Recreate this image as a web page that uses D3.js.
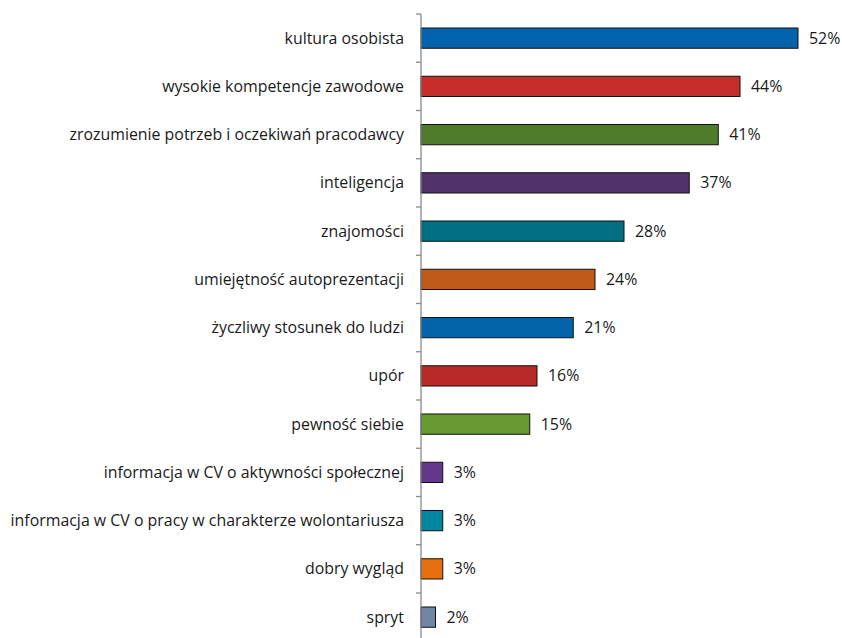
<!DOCTYPE html>
<html>
<head>
<meta charset="utf-8">
<script src="https://cdn.jsdelivr.net/npm/d3@7"></script>
<style>
  html, body { margin: 0; padding: 0; background: #ffffff; }
  svg { display: block; }
  text { font-family: "Open Sans", "Noto Sans", sans-serif; fill: #1a1a1a; }
</style>
</head>
<body>
<svg id="chart" width="842" height="638"></svg>
<script>
const categories = [
  "kultura osobista",
  "wysokie kompetencje zawodowe",
  "zrozumienie potrzeb i oczekiwań pracodawcy",
  "inteligencja",
  "znajomości",
  "umiejętność autoprezentacji",
  "życzliwy stosunek do ludzi",
  "upór",
  "pewność siebie",
  "informacja w CV o aktywności społecznej",
  "informacja w CV o pracy w charakterze wolontariusza",
  "dobry wygląd",
  "spryt"
];
const values = [52, 44, 41, 37, 28, 24, 21, 16, 15, 3, 3, 3, 2];
const colors = [
  "#0463ac", "#c62d2b", "#4f7c2a", "#52326b", "#006f84", "#c05a1b",
  "#0563aa", "#b82a28", "#679a32", "#63388a", "#00879f", "#e4700f", "#6f87a5"
];

const svg = d3.select("#chart");
const axisX = 421;
const plotTop = 14;
const step = 48.25;
const fontSize = "15.9px";

const x = d3.scaleLinear().domain([0, 52]).range([axisX, axisX + 377]);
const y = d3.scaleBand()
  .domain(categories)
  .range([plotTop, plotTop + step * categories.length])
  .paddingInner(0.58)
  .paddingOuter(0.29);

const padGap = (y.step() - y.bandwidth()) / 2;

// bars
svg.append("g").selectAll("rect")
  .data(categories)
  .join("rect")
  .attr("x", axisX)
  .attr("y", d => y(d))
  .attr("width", (d, i) => x(values[i]) - axisX)
  .attr("height", y.bandwidth())
  .attr("fill", (d, i) => colors[i])
  .attr("stroke", "#111")
  .attr("stroke-width", 1);

// category axis: vertical line and outer ticks at band boundaries
const axis = svg.append("g").attr("stroke", "#8a8a8a").attr("stroke-width", 1.3);
axis.append("line")
  .attr("x1", axisX).attr("x2", axisX)
  .attr("y1", plotTop).attr("y2", plotTop + step * categories.length);
axis.selectAll("line.tick")
  .data(categories)
  .join("line")
  .attr("class", "tick")
  .attr("x1", axisX - 5).attr("x2", axisX)
  .attr("y1", d => y(d) - padGap)
  .attr("y2", d => y(d) - padGap);

// category labels
svg.append("g").selectAll("text")
  .data(categories)
  .join("text")
  .attr("x", axisX - 17)
  .attr("y", d => y(d) + y.bandwidth() / 2)
  .attr("dy", "0.35em")
  .attr("text-anchor", "end")
  .style("font-size", fontSize)
  .text(d => d);

// value labels
svg.append("g").selectAll("text")
  .data(categories)
  .join("text")
  .attr("x", (d, i) => x(values[i]) + 11)
  .attr("y", d => y(d) + y.bandwidth() / 2)
  .attr("dy", "0.35em")
  .style("font-size", fontSize)
  .text((d, i) => values[i] + "%");
</script>
</body>
</html>
